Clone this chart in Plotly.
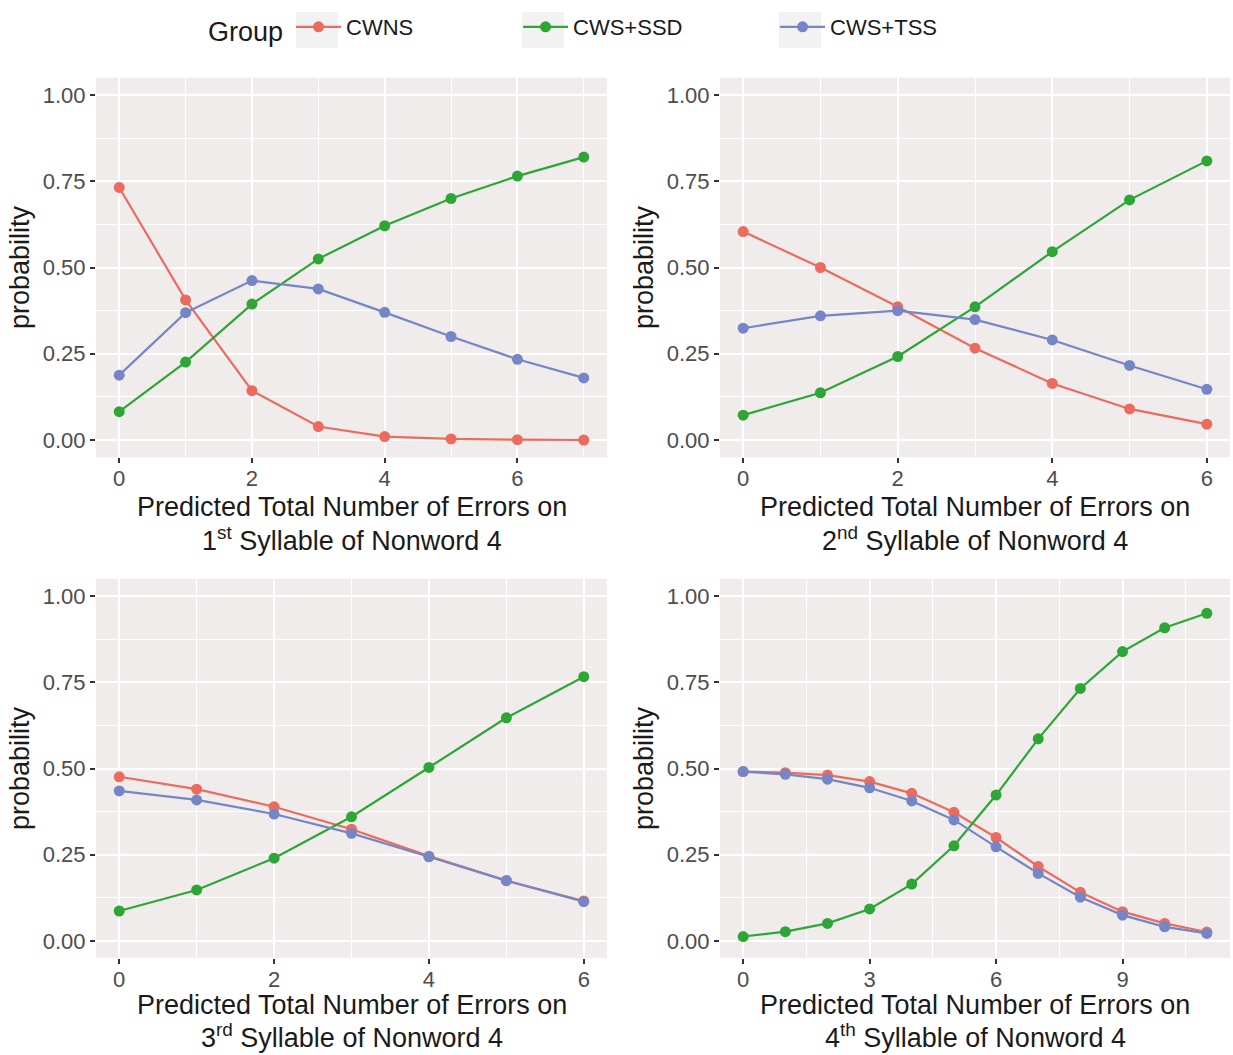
import plotly.graph_objects as go

groups = ["CWNS", "CWS+SSD", "CWS+TSS"]
colors = ["#EC6A5E", "#2EA636", "#7586C6"]

# Panel 1: 1st syllable
x1 = [0, 1, 2, 3, 4, 5, 6, 7]
p1_cwns = [0.732, 0.406, 0.143, 0.039, 0.010, 0.003, 0.001, 0.000]
p1_ssd = [0.082, 0.226, 0.394, 0.525, 0.621, 0.700, 0.765, 0.820]
p1_tss = [0.188, 0.369, 0.462, 0.438, 0.370, 0.300, 0.234, 0.180]

# Panel 2: 2nd syllable
x2 = [0, 1, 2, 3, 4, 5, 6]
p2_cwns = [0.604, 0.500, 0.386, 0.266, 0.164, 0.090, 0.046]
p2_ssd = [0.072, 0.137, 0.242, 0.386, 0.546, 0.696, 0.809]
p2_tss = [0.324, 0.360, 0.375, 0.349, 0.290, 0.216, 0.147]

# Panel 3: 3rd syllable
x3 = [0, 1, 2, 3, 4, 5, 6]
p3_cwns = [0.476, 0.440, 0.389, 0.324, 0.246, 0.175, 0.116]
p3_ssd = [0.087, 0.148, 0.240, 0.360, 0.503, 0.647, 0.766]
p3_tss = [0.435, 0.409, 0.368, 0.312, 0.244, 0.175, 0.114]

# Panel 4: 4th syllable
x4 = [0, 1, 2, 3, 4, 5, 6, 7, 8, 9, 10, 11]
p4_cwns = [0.491, 0.488, 0.481, 0.462, 0.428, 0.373, 0.300, 0.216, 0.141, 0.085, 0.051, 0.026]
p4_ssd = [0.013, 0.027, 0.051, 0.093, 0.165, 0.276, 0.423, 0.586, 0.732, 0.839, 0.908, 0.950]
p4_tss = [0.491, 0.483, 0.469, 0.444, 0.406, 0.351, 0.273, 0.196, 0.127, 0.075, 0.041, 0.022]

x_title_line1 = "Predicted Total Number of Errors on"
x_title_line2 = [
    "1<sup>st</sup> Syllable of Nonword 4",
    "2<sup>nd</sup> Syllable of Nonword 4",
    "3<sup>rd</sup> Syllable of Nonword 4",
    "4<sup>th</sup> Syllable of Nonword 4",
]
y_ticks = [0, 0.25, 0.5, 0.75, 1.0]

panels = [
    (x1, [p1_cwns, p1_ssd, p1_tss], 2, 1, 7),
    (x2, [p2_cwns, p2_ssd, p2_tss], 2, 1, 6),
    (x3, [p3_cwns, p3_ssd, p3_tss], 2, 1, 6),
    (x4, [p4_cwns, p4_ssd, p4_tss], 3, 1.5, 11),
]

W, H = 1233, 1055
left_dom = [96 / W, 607 / W]
right_dom = [720 / W, 1230 / W]
top_dom = [1 - 457.25 / H, 1 - 77.75 / H]
bot_dom = [1 - 958.25 / H, 1 - 578.75 / H]
doms = [(left_dom, top_dom), (right_dom, top_dom), (left_dom, bot_dom), (right_dom, bot_dom)]
title_rows = [(507, 538.5), (507, 538.5), (1005, 1036), (1005, 1036)]

FONT = "Liberation Sans, Arial, sans-serif"
legendwidths = [167, 197, 150]

fig = go.Figure()
for i, (xs, series, dt, mdt, xmax) in enumerate(panels):
    xa = "x" if i == 0 else f"x{i+1}"
    ya = "y" if i == 0 else f"y{i+1}"
    for j, ys in enumerate(series):
        fig.add_trace(go.Scatter(
            x=xs, y=ys, mode="lines+markers", name=groups[j],
            line=dict(color=colors[j], width=2.2),
            marker=dict(color=colors[j], size=11),
            xaxis=xa, yaxis=ya, showlegend=(i == 0),
            legendwidth=legendwidths[j],
        ))
    pad = 0.05 * xmax
    xd, yd = doms[i]
    axname = "xaxis" if i == 0 else f"xaxis{i+1}"
    ayname = "yaxis" if i == 0 else f"yaxis{i+1}"
    fig.layout[axname] = dict(
        domain=xd, anchor=ya, range=[-pad, xmax + pad],
        tick0=0, dtick=dt, showgrid=True, gridcolor="white", gridwidth=2,
        minor=dict(dtick=mdt, tick0=0, showgrid=True, gridcolor="white", gridwidth=1),
        ticks="outside", ticklen=5, tickwidth=1.5, tickcolor="#333333",
        tickfont=dict(family=FONT, size=22, color="#4D4D4D"),
        ticklabelstandoff=-4,
        zeroline=False, showline=False,
    )
    fig.layout[ayname] = dict(
        domain=yd, anchor=xa, range=[-0.05, 1.05],
        tickvals=y_ticks, tickformat=".2f",
        showgrid=True, gridcolor="white", gridwidth=2,
        minor=dict(dtick=0.125, tick0=0, showgrid=True, gridcolor="white", gridwidth=1),
        ticks="outside", ticklen=5, tickwidth=1.5, tickcolor="#333333",
        tickfont=dict(family=FONT, size=22, color="#4D4D4D"),
        zeroline=False, showline=False,
        title=dict(text="probability", font=dict(family=FONT, size=27, color="#1A1A1A"), standoff=5),
    )
    cx = (xd[0] + xd[1]) / 2
    r1, r2 = title_rows[i]
    for txt, ry in [(x_title_line1, r1), (x_title_line2[i], r2)]:
        fig.add_annotation(
            text=txt, xref="paper", yref="paper", x=cx, y=1 - ry / H,
            xanchor="center", yanchor="middle", showarrow=False, borderpad=0,
            font=dict(family=FONT, size=27, color="#1A1A1A"),
        )

# legend key backgrounds
for kx in [296, 522, 779]:
    fig.add_shape(type="rect", xref="paper", yref="paper",
                  x0=kx / W, x1=(kx + 42) / W, y0=1 - 48 / H, y1=1 - 12 / H,
                  fillcolor="#F2F2F2", line=dict(width=0), layer="below")

fig.update_layout(
    width=W, height=H,
    margin=dict(l=0, r=0, t=0, b=0),
    paper_bgcolor="white", plot_bgcolor="#EFECEB",
    font=dict(family=FONT, color="#1A1A1A"),
    legend=dict(
        orientation="h", x=206 / W, xanchor="left", y=1 - 29 / H, yanchor="middle",
        title=dict(text="Group", font=dict(family=FONT, size=27, color="#1A1A1A"), side="left"),
        font=dict(family=FONT, size=22, color="#1A1A1A"),
        bgcolor="rgba(0,0,0,0)", itemclick=False, itemwidth=45,
    ),
)

fig.write_html(
    "out.html",
    config={"displayModeBar": False},
    post_script="document.body.style.margin='0';document.body.style.overflow='hidden';",
)
